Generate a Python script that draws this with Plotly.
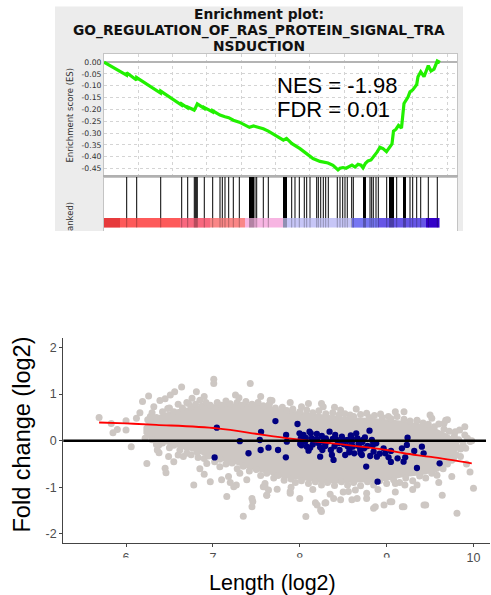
import plotly.graph_objects as go

W, H = 491, 595


def fx(p):
    return p / W


def fy(p):
    return 1 - p / H


# ---------------- GSEA enrichment panel data ----------------
TITLE_LINES = ["Enrichment plot:", "GO_REGULATION_OF_RAS_PROTEIN_SIGNAL_TRA", "NSDUCTION"]
NES_TEXT = "NES = -1.98"
FDR_TEXT = "FDR = 0.01"

ES_CURVE = [
    (0, 0.0), (1312, -0.055), (1323, -0.045), (1895, -0.076), (1906, -0.066),
    (3294, -0.131), (3306, -0.123), (4518, -0.182), (4530, -0.177), (4868, -0.194),
    (4880, -0.190), (5259, -0.203), (5323, -0.195), (5381, -0.186), (5439, -0.177),
    (5842, -0.196), (5847, -0.192), (6331, -0.211), (6337, -0.206), (6763, -0.224),
    (6897, -0.226), (7054, -0.231), (7270, -0.235), (7538, -0.246), (7888, -0.254),
    (8104, -0.262), (8477, -0.276), (8716, -0.270), (8902, -0.274), (9287, -0.282),
    (9579, -0.292), (9969, -0.308), (10459, -0.330), (10640, -0.323), (10960, -0.345),
    (11427, -0.366), (11835, -0.388), (12185, -0.408), (12593, -0.420), (13059, -0.427),
    (13351, -0.437), (13642, -0.456), (13759, -0.449), (13934, -0.446), (14109, -0.449),
    (14342, -0.440), (14458, -0.436), (14633, -0.444), (14808, -0.432), (14983, -0.436),
    (15100, -0.447), (15245, -0.428), (15391, -0.418), (15566, -0.414), (15741, -0.400),
    (15916, -0.381), (16091, -0.360), (16266, -0.366), (16470, -0.379), (16645, -0.358),
    (16790, -0.346), (16878, -0.292), (17024, -0.284), (17169, -0.268), (17344, -0.279),
    (17490, -0.175), (17607, -0.160), (17723, -0.148), (17840, -0.126), (17997, -0.118),
    (18131, -0.105), (18230, -0.095), (18306, -0.062), (18464, -0.041), (18656, -0.062),
    (18907, -0.015), (19064, -0.038), (19239, -0.030), (19431, 0.004), (19589, -0.002),
]

HIT_RANKS = [
    1323, 1906, 3306, 4530, 4880, 5264, 5323, 5381, 5439, 5847, 6337, 6763, 6897,
    7054, 7270, 7538, 7888, 8483, 8541, 8599, 8658, 8716, 8803, 8902, 9287, 9579,
    10465, 10523, 10582, 10640, 10943, 11135, 11386, 11677, 11817, 12010, 12400,
    12494, 12634, 12785, 12925, 13077, 13601, 13759, 13916, 14050, 14184, 14441,
    14534, 15129, 15187, 15245, 15508, 15607, 15700, 15858, 15992, 16481, 16645,
    16703, 16761, 16820, 16878, 17064, 17461, 17519, 17577, 17840, 17997, 18230,
    18464, 18907, 19431,
]

RANK_SEG_START = [0, 933, 4431, 6180, 8220, 10436, 14458, 15974, 18773]
RANK_SEG_END = [933, 4431, 6180, 8220, 10436, 14458, 15974, 18773, 19560]
RANK_SEG_COLOR = ["#e63a3c", "#fd5a5a", "#f8687f", "#fa8787", "#f7b5e2",
                  "#c7c6f7", "#7676f2", "#6655e6", "#3300c8"]

ES_TICKS = [0.0, -0.05, -0.10, -0.15, -0.20, -0.25, -0.30, -0.35, -0.40, -0.45]
ES_TICK_TEXT = ["0.00", "-0.05", "-0.10", "-0.15", "-0.20", "-0.25", "-0.30", "-0.35", "-0.40", "-0.45"]

# ---------------- Scatter panel data ----------------
GRAY_CORE = [
    (6.2, 0.30), (6.3, 0.50), (6.45, 0.60), (6.6, 0.68), (6.8, 0.74), (7.0, 0.78),
    (7.2, 0.80), (7.4, 0.80), (7.6, 0.76), (7.8, 0.68), (8.0, 0.62), (8.2, 0.58),
    (8.4, 0.54), (8.6, 0.50), (8.8, 0.49), (9.0, 0.46), (9.2, 0.43), (9.4, 0.36),
    (9.55, 0.28), (9.7, 0.15), (9.82, 0.0), (9.85, -0.12), (9.75, -0.40), (9.6, -0.66),
    (9.4, -0.74), (9.2, -0.78), (9.0, -0.86), (8.8, -0.90), (8.6, -0.90), (8.4, -0.92),
    (8.2, -0.90), (8.0, -0.84), (7.8, -0.80), (7.6, -0.70), (7.4, -0.60), (7.2, -0.47),
    (7.0, -0.40), (6.8, -0.25), (6.6, -0.15), (6.4, -0.05), (6.25, 0.05), (6.2, 0.15),
    (6.2, 0.30),
]

GRAY_POINTS = [
    # outlying genes
    (5.69, 0.50), (5.83, 0.37), (5.85, 0.17), (5.90, 0.24), (6.00, 0.43), (6.00, 0.23),
    (6.06, -0.13), (6.12, 0.48), (6.16, 0.60), (6.19, 0.84), (6.26, 0.96), (6.24, -0.49),
    (6.28, 0.52), (6.32, 0.73), (6.36, -0.20), (6.38, -0.09), (6.38, -0.26), (6.39, 0.86),
    (6.45, -0.59), (6.46, -0.69), (6.48, 0.69), (6.49, -0.34), (6.51, 0.98), (6.56, 1.05),
    (6.60, -0.31), (6.64, 1.15), (6.66, -0.34), (6.70, -0.27), (6.72, 0.80), (6.76, 0.91),
    (6.78, -0.95), (6.81, 1.05), (6.83, -0.36), (6.85, 0.87), (6.90, -0.72), (6.93, -0.49),
    (6.97, -0.88), (7.01, 1.32), (7.01, 1.23), (7.08, -0.56), (7.10, -0.84), (7.16, -1.20),
    (7.18, -0.77), (7.24, -0.99), (7.26, 0.98), (7.31, -0.70), (7.43, 1.23), (7.39, -0.84),
    (7.45, -1.24), (7.46, -1.31), (7.45, -1.42), (7.35, -1.62), (7.58, -0.99), (7.62, -1.17),
    (7.64, -1.06), (7.66, 0.87), (7.68, 0.86), (7.89, 0.82), (8.02, 0.73), (8.25, 0.80),
    (8.27, 0.73), (8.47, 0.66), (8.58, 0.55), (8.77, 0.59), (8.93, 0.57), (9.02, 0.52),
    (9.20, 0.62), (9.35, 0.43), (9.52, 0.48), (9.66, 0.37), (9.79, 0.19), (9.93, 0.05),
    (9.98, 0.00), (9.91, -0.16), (9.85, -0.34), (9.96, -0.67), (10.00, -1.02), (9.75, -0.77),
    (9.64, -1.17), (9.45, -1.38), (9.35, -0.95), (9.18, -1.42), (9.06, -1.31), (8.97, -1.38),
    (8.87, -1.42), (8.77, -1.24), (8.66, -1.24), (8.56, -1.09), (8.47, -1.27), (8.29, -1.34),
    (8.24, -1.49), (8.20, -1.38), (8.07, -1.63), (8.00, -1.24), (7.89, -1.13), (7.74, -1.04),
    (9.81, -1.56), (9.68, 0.44), (9.84, 0.23), (9.90, 0.12), (9.96, -0.02), (9.77, -0.38),
    (9.21, -0.95), (9.10, -0.92), (8.77, -1.13), (8.60, -1.27), (8.39, -1.24), (8.18, -1.33),
    (8.30, -1.33), (8.64, -1.06), (8.85, -1.45), (9.04, -1.31), (9.20, -1.42), (9.43, -1.38),
    (7.60, -0.99), (7.27, -0.95), (7.62, -1.17), (7.89, -1.09), (8.25, -1.52),
    # upper edge of the dense cloud
    (6.25, 0.45), (6.30, 0.60), (6.35, 0.50), (6.42, 0.62), (6.50, 0.70), (6.55, 0.62),
    (6.60, 0.78), (6.65, 0.70), (6.70, 0.82), (6.75, 0.72), (6.80, 0.78), (6.87, 0.74),
    (6.92, 0.82), (6.97, 0.76), (7.05, 0.82), (7.10, 0.76), (7.15, 0.85), (7.20, 0.79),
    (7.28, 0.82), (7.33, 0.76), (7.38, 0.84), (7.45, 0.78), (7.52, 0.82), (7.58, 0.75),
    (7.65, 0.78), (7.72, 0.70), (7.80, 0.72), (7.85, 0.65), (7.92, 0.68), (8.00, 0.62),
    (8.08, 0.66), (8.15, 0.60), (8.22, 0.64), (8.30, 0.58), (8.38, 0.60), (8.45, 0.55),
    (8.52, 0.58), (8.62, 0.52), (8.70, 0.56), (8.80, 0.50), (8.86, 0.54), (8.95, 0.50),
    (9.05, 0.47), (9.12, 0.52), (9.20, 0.46), (9.27, 0.42), (9.35, 0.44), (9.42, 0.38),
    (9.48, 0.35), (9.55, 0.30), (9.60, 0.36), (9.66, 0.25), (9.72, 0.20), (9.78, 0.10),
    (9.83, 0.02), (6.45, 0.90), (6.90, 0.95), (7.30, 0.92), (7.55, 0.95), (8.10, 0.80),
    (8.40, 0.72), (8.65, 0.68), (9.10, 0.62), (9.50, 0.55), (9.70, 0.45), (9.90, 0.30),
    # lower edge of the dense cloud
    (6.22, 0.05), (6.30, 0.02), (6.35, -0.08), (6.42, -0.05), (6.50, -0.15), (6.55, -0.10),
    (6.62, -0.20), (6.70, -0.15), (6.75, -0.30), (6.82, -0.25), (6.90, -0.38), (6.95, -0.33),
    (7.02, -0.45), (7.08, -0.40), (7.15, -0.50), (7.22, -0.48), (7.28, -0.60), (7.35, -0.55),
    (7.42, -0.65), (7.50, -0.62), (7.55, -0.75), (7.62, -0.70), (7.70, -0.80), (7.75, -0.75),
    (7.82, -0.85), (7.90, -0.82), (7.95, -0.90), (8.02, -0.86), (8.10, -0.92), (8.18, -0.88),
    (8.25, -0.95), (8.32, -0.90), (8.40, -0.96), (8.48, -0.88), (8.55, -0.95), (8.62, -0.90),
    (8.70, -0.97), (8.78, -0.88), (8.85, -0.95), (8.92, -0.86), (9.00, -0.92), (9.08, -0.84),
    (9.15, -0.90), (9.22, -0.80), (9.30, -0.86), (9.38, -0.76), (9.45, -0.80), (9.52, -0.70),
    (9.58, -0.74), (9.65, -0.60), (9.70, -0.50), (9.75, -0.42), (9.80, -0.30), (9.85, -0.18),
    (9.88, -0.08), (6.55, -0.45), (6.85, -0.60), (7.20, -0.90), (7.60, -0.92), (8.15, -1.05),
    (8.50, -1.10), (8.90, -1.05), (9.30, -1.05), (9.60, -0.90), (9.92, -0.50), (7.90, -1.00),
    (8.35, -1.15), (9.10, -1.10),
]

NAVY_POINTS = [
    (7.045, 0.28), (7.02, -0.36), (7.31, -0.01), (7.41, -0.27), (7.54, 0.015), (7.555, 0.19),
    (7.55, -0.20), (7.64, -0.15), (7.72, 0.42), (7.75, -0.20), (7.974, 0.358), (7.843, 0.122),
    (7.851, -0.021), (7.84, -0.357), (7.997, 0.158), (8.012, 0.051), (8.043, 0.122),
    (8.005, -0.071), (8.062, -0.021), (8.081, -0.128), (8.101, -0.214), (8.112, 0.194),
    (8.127, 0.158), (8.139, 0.051), (8.177, 0.015), (8.197, 0.144), (8.216, -0.057),
    (8.235, -0.142), (8.254, 0.101), (8.273, -0.021), (8.293, -0.114), (8.235, -0.343),
    (8.343, 0.194), (8.358, -0.200), (8.37, -0.307), (8.389, -0.414), (8.408, 0.122),
    (8.427, 0.015), (8.458, -0.200), (8.485, 0.087), (8.504, -0.071), (8.523, -0.307),
    (8.55, 0.015), (8.573, -0.200), (8.588, 0.115), (8.611, -0.128), (8.627, -0.271),
    (8.65, 0.158), (8.665, 0.051), (8.677, -0.057), (8.696, -0.200), (8.715, -0.307),
    (8.727, 0.015), (8.742, -0.164), (8.765, -0.557), (8.78, -0.114), (8.803, 0.215),
    (8.811, -0.329), (8.83, 0.015), (8.85, -0.235), (8.88, -0.057), (8.888, -0.343),
    (8.896, -0.879), (8.965, -0.164), (8.984, -0.271), (9.022, -0.357), (9.049, -0.457),
    (9.126, -0.379), (9.176, -0.164), (9.195, -0.450), (9.214, -0.357), (9.233, -0.092),
    (9.241, 0.065), (9.318, -0.221), (9.349, -0.586), (9.406, -0.128), (9.426, -0.271),
    (9.61, -0.486), (8.02, -0.10), (8.07, 0.06), (8.15, -0.08), (8.20, 0.03), (8.30, 0.05),
    (8.32, -0.02), (8.45, -0.05), (8.50, 0.02), (8.55, -0.12), (8.60, -0.03), (8.68, -0.12),
    (8.72, -0.03), (8.75, 0.07), (8.60, 0.05), (8.40, -0.12), (8.26, -0.20), (8.12, -0.15),
    (8.38, 0.04), (8.57, -0.25), (8.84, -0.10), (8.92, -0.28), (9.05, -0.22), (8.70, -0.27),
]

FIT_X = [5.69, 6.0, 6.35, 7.05, 7.54, 7.77, 8.0, 8.43, 9.0, 9.2, 9.51, 9.98]
FIT_Y = [0.39, 0.37, 0.34, 0.265, 0.136, 0.075, 0.02, -0.071, -0.2, -0.27, -0.35, -0.486]

HLINE_Y = 0
LEN_TICKS = [6, 7, 8, 9, 10]
FC_TICKS = [2, 1, 0, -1, -2]
FC_TICK_TEXT = ["2", "1", "0", "-1", "-2"]

# ---------------- figure ----------------
fig = go.Figure()

# ES curve
fig.add_trace(go.Scatter(
    x=[p[0] for p in ES_CURVE], y=[p[1] for p in ES_CURVE], mode="lines",
    line=dict(color="#22f000", width=3.2), xaxis="x", yaxis="y", hoverinfo="skip"))

# colour bar of the ranked list
fig.add_trace(go.Bar(
    x=[e - s for s, e in zip(RANK_SEG_START, RANK_SEG_END)], base=RANK_SEG_START,
    y=[-0.145] * len(RANK_SEG_START), orientation="h", width=0.24,
    marker=dict(color=RANK_SEG_COLOR, line=dict(width=0)),
    xaxis="x2", yaxis="y2", hoverinfo="skip"))

# hit lines (black above the colour bar, faint through it)
hx, hy, cx, cy = [], [], [], []
for r in HIT_RANKS:
    hx += [r, r, None]
    hy += [-0.025, 1, None]
    cx += [r, r, None]
    cy += [-0.265, -0.025, None]
fig.add_trace(go.Scatter(x=hx, y=hy, mode="lines", line=dict(color="black", width=1),
                         xaxis="x2", yaxis="y2", hoverinfo="skip"))
fig.add_trace(go.Scatter(x=cx, y=cy, mode="lines", line=dict(color="rgba(0,0,0,0.28)", width=1),
                         xaxis="x2", yaxis="y2", hoverinfo="skip"))

# scatter: dense core + points
GRAY = "#cdc7c3"
fig.add_trace(go.Scatter(
    x=[p[0] for p in GRAY_CORE], y=[p[1] for p in GRAY_CORE], mode="lines",
    fill="toself", fillcolor=GRAY, line=dict(width=0, color=GRAY),
    xaxis="x3", yaxis="y3", hoverinfo="skip"))
fig.add_trace(go.Scatter(
    x=[p[0] for p in GRAY_POINTS], y=[p[1] for p in GRAY_POINTS], mode="markers",
    marker=dict(color=GRAY, size=7, line=dict(width=0)),
    xaxis="x3", yaxis="y3", hoverinfo="skip"))
fig.add_trace(go.Scatter(
    x=[p[0] for p in NAVY_POINTS], y=[p[1] for p in NAVY_POINTS], mode="markers",
    marker=dict(color="#000080", size=6.3, line=dict(width=0)),
    xaxis="x3", yaxis="y3", hoverinfo="skip"))
fig.add_trace(go.Scatter(
    x=FIT_X, y=FIT_Y, mode="lines", line=dict(color="#ff0000", width=1.8, shape="spline"),
    xaxis="x3", yaxis="y3", hoverinfo="skip"))

# ---- shapes
shapes = [
    dict(type="rect", xref="paper", yref="paper", x0=fx(55), x1=fx(463), y0=fy(231), y1=fy(6.5),
         fillcolor="#ececec", line=dict(width=0), layer="below"),
    dict(type="rect", xref="paper", yref="paper", x0=fx(104), x1=fx(457), y0=fy(231), y1=fy(54),
         fillcolor="white", line=dict(width=0), layer="below"),
    dict(type="line", xref="x3 domain", yref="y3", x0=0, x1=0.9906, y0=HLINE_Y, y1=HLINE_Y,
         line=dict(color="black", width=2.5)),
    dict(type="rect", xref="paper", yref="paper", x0=fx(100), x1=fx(420), y0=fy(563), y1=fy(557.6),
         fillcolor="white", line=dict(width=0), layer="above"),
]

ann = []
title_y = [14.3, 30.2, 46.1]
for t, yy in zip(TITLE_LINES, title_y):
    ann.append(dict(text=t, x=fx(259), y=fy(yy), xref="paper", yref="paper", showarrow=False,
                    xanchor="center", yanchor="middle",
                    font=dict(family="DejaVu Sans", size=13.8, color="#111111", weight="bold")))
ann.append(dict(text=NES_TEXT, x=fx(275), y=fy(85.5), xref="paper", yref="paper", showarrow=False,
                xanchor="left", yanchor="middle",
                font=dict(family="Liberation Sans, Arial", size=22, color="black")))
ann.append(dict(text=FDR_TEXT, x=fx(275), y=fy(109.5), xref="paper", yref="paper", showarrow=False,
                xanchor="left", yanchor="middle",
                font=dict(family="Liberation Sans, Arial", size=22, color="black")))
ann.append(dict(text="Enrichment score (ES)", x=fx(70), y=fy(115.5), xref="paper", yref="paper",
                showarrow=False, textangle=-90, xanchor="center", yanchor="middle",
                font=dict(family="DejaVu Sans", size=8.5, color="#333333")))
ann.append(dict(text="anked)", x=fx(70), y=fy(217), xref="paper", yref="paper",
                showarrow=False, textangle=-90, xanchor="center", yanchor="middle",
                font=dict(family="DejaVu Sans", size=8.5, color="#333333")))
ann.append(dict(text="Fold change (log2)", x=fx(21), y=fy(434.5), xref="paper", yref="paper",
                showarrow=False, textangle=-90, xanchor="center", yanchor="middle",
                font=dict(family="Liberation Sans, Arial", size=23.5, color="black")))
ann.append(dict(text="Length (log2)", x=fx(272), y=fy(583), xref="paper", yref="paper",
                showarrow=False, xanchor="center", yanchor="middle",
                font=dict(family="Liberation Sans, Arial", size=21.5, color="black")))

GRID = "#d4d4d4"
BORDER = "#c4c4c4"
AXIS = "#444444"
fig.update_layout(
    width=W, height=H, autosize=False,
    margin=dict(l=0, r=0, t=0, b=0, pad=0),
    paper_bgcolor="white", plot_bgcolor="rgba(0,0,0,0)",
    showlegend=False,
    shapes=shapes, annotations=ann,
    xaxis=dict(domain=[fx(104), fx(457)], range=[0, 20580], tick0=0, dtick=2000,
               showgrid=True, gridcolor=GRID, griddash="dot", gridwidth=1,
               showticklabels=False, ticks="", zeroline=False,
               showline=True, mirror=True, linecolor=BORDER, linewidth=1),
    yaxis=dict(domain=[fy(177), fy(54)], range=[-0.486, 0.034],
               tickvals=ES_TICKS, ticktext=ES_TICK_TEXT, ticks="",
               tickfont=dict(family="DejaVu Sans", size=7.7, color="#333333"),
               showgrid=True, gridcolor=GRID, griddash="dot", gridwidth=1,
               zeroline=True, zerolinecolor="#b4b4b4", zerolinewidth=1.5,
               showline=True, mirror=True, linecolor=BORDER, linewidth=1),
    xaxis2=dict(domain=[fx(104), fx(457)], range=[0, 20580], anchor="y2", side="top",
                showgrid=False, showticklabels=False, ticks="", zeroline=False,
                showline=True, mirror=False, linecolor="#b0b0b0", linewidth=1.5),
    yaxis2=dict(domain=[fy(231), fy(177)], range=[-0.35, 1.0], anchor="x2",
                showgrid=False, showticklabels=False, ticks="", zeroline=False,
                showline=True, mirror=True, linecolor=BORDER, linewidth=1),
    xaxis3=dict(domain=[fx(63.3), fx(490)], range=[5.278, 10.19], anchor="y3",
                tickvals=LEN_TICKS, ticks="outside", ticklen=3, tickcolor=AXIS,
                tickfont=dict(family="Liberation Sans, Arial", size=12.5, color="#4d4d4d"),
                showgrid=False, zeroline=False,
                showline=True, linecolor=AXIS, linewidth=1.2),
    yaxis3=dict(domain=[fy(542.7), fy(338)], range=[-2.19, 2.204], anchor="x3",
                tickvals=FC_TICKS, ticktext=FC_TICK_TEXT, ticks="outside", ticklen=3,
                tickcolor=AXIS,
                tickfont=dict(family="Liberation Sans, Arial", size=12.5, color="#4d4d4d"),
                showgrid=False, zeroline=False,
                showline=True, linecolor=AXIS, linewidth=1.2),
)

fig.write_html("out.html", config={"displayModeBar": False},
               post_script="document.body.style.margin='0px';document.body.style.overflow='hidden';")
